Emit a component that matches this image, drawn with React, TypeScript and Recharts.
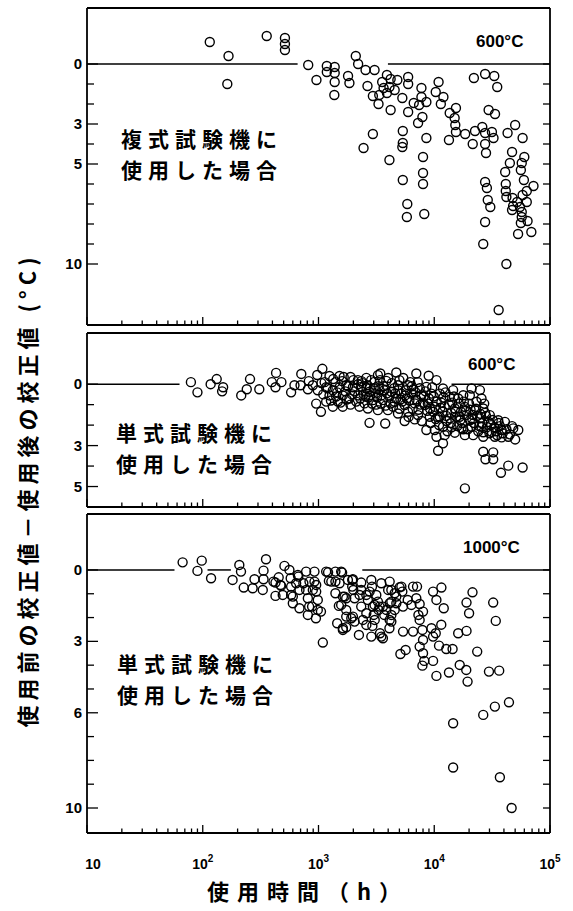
import React from 'react';
import { ScatterChart, Scatter, XAxis, YAxis, ReferenceLine } from 'recharts';

// hours of use vs (calibration before use - calibration after use), °C
const upperPoints: [number, number][] = [
  [115, -1.1], [167, -0.4], [163, 1.0], [357, -1.4], [513, -1.3], [513, -1.0], [513, -0.7], [815, 0.05],
  [960, 0.8], [1180, 0.1], [1180, 0.4], [1380, 0.15], [1380, 0.45], [1380, 0.9], [1370, 1.55], [1800, 0.6],
  [1850, 0.95], [2100, -0.4], [2200, 0.0], [2550, 0.3], [2650, 1.1], [2450, 4.2], [3050, 0.3], [2950, 1.6],
  [2950, 3.5], [3300, 2.0], [3350, 1.55], [3550, 0.9], [3650, 1.2], [3900, 0.55], [3900, 1.45], [4200, 0.75],
  [4100, 1.15], [4200, 2.3], [4100, 4.8], [4550, 1.3], [4800, 0.8], [5300, 1.7], [5350, 3.35], [5350, 3.95],
  [5300, 4.15], [5350, 5.8], [5850, 7.0], [5800, 7.65], [5950, 0.65], [5950, 1.0], [5950, 2.4], [6650, 1.95],
  [7250, 2.95], [7400, 2.05], [7750, 1.2], [7750, 1.65], [7900, 2.65], [8000, 4.65], [8000, 5.45], [8000, 6.0],
  [8200, 7.5], [8550, 1.9], [8550, 3.7], [10300, 1.4], [10900, 0.9], [11400, 2.0], [12000, 1.65], [13400, 3.8],
  [13600, 2.45], [15000, 2.7], [15400, 2.2], [15200, 3.05], [15400, 3.4], [18500, 3.5], [21500, 4.0], [22000, 0.7],
  [22500, 3.35], [26000, 3.15], [27500, 0.5], [27500, 3.45], [27500, 4.0], [28000, 4.45], [27500, 5.9], [28500, 6.2],
  [29000, 6.8], [30500, 7.15], [27500, 7.9], [26500, 9.0], [29500, 2.3], [31500, 3.4], [32500, 3.7], [33000, 0.6],
  [33500, 2.5], [35000, 1.15], [36000, 12.3], [41000, 5.4], [41500, 6.0], [41500, 6.35], [42000, 6.65], [42000, 10.0],
  [43000, 3.45], [45000, 4.95], [47000, 4.4], [47000, 7.3], [47500, 6.7], [48000, 7.1], [50000, 3.05], [52000, 6.9],
  [53000, 8.5], [55000, 7.15], [56000, 5.3], [57000, 4.95], [57000, 7.4], [57000, 7.65], [56000, 7.95], [58000, 3.7],
  [58000, 6.55], [59500, 5.8], [60000, 4.65], [63000, 6.35], [63000, 6.9], [64000, 7.85], [69000, 8.4], [72000, 6.1],
];

const middlePoints: [number, number][] = [
  [79, -0.1], [90, 0.4], [117, 0.0], [132, -0.25], [150, 0.15], [147, 0.35], [215, 0.55], [240, 0.25],
  [256, -0.25], [308, 0.25], [395, -0.1], [425, 0.15], [430, -0.55], [478, -0.1], [580, 0.4], [620, 0.05],
  [700, 0.05], [710, -0.5], [810, 0.25], [825, -0.15], [893, 0.05], [955, 0.95], [975, -0.45], [985, 0.3],
  [1050, 1.35], [1060, -0.05], [1080, -0.75], [1130, -0.1], [1165, 0.15], [1165, 0.85], [1245, -0.4], [1245, 0.55],
  [1330, 0.3], [1330, 1.1], [1340, -0.25], [1420, 0.6], [1470, 0.85], [1520, -0.4], [1520, 0.15], [1620, 0.55],
  [1620, 1.1], [1650, -0.35], [1736, 0.05], [1850, 0.7], [1890, -0.35], [1890, 1.0], [1983, 0.15], [2120, 0.85],
  [2200, 0.0], [2190, -0.2], [2260, 1.1], [2340, 0.13], [2500, 0.94], [2590, -0.31], [2670, 1.19], [2760, 0.37],
  [2760, 1.89], [2950, 0.78], [3050, -0.11], [3260, -0.44], [3260, 1.27], [3370, 0.29], [3420, -0.52], [3600, 0.78],
  [3770, 1.92], [3850, -0.16], [3980, 1.27], [4260, 0.37], [4550, 0.86], [4700, -0.57], [4860, 0.05], [4860, 1.43],
  [5200, 0.46], [5550, 1.02], [5550, 1.8], [5940, 0.05], [5940, 1.35], [6340, 0.46], [6780, 0.94], [6780, 1.72],
  [7000, -0.52], [7240, 1.51], [7740, 0.54], [8280, 1.02], [8550, 0.13], [8550, 2.24], [8950, -0.41], [9150, 1.59],
  [9450, 0.46], [10100, 1.11], [10100, 2.24], [10450, -0.2], [10450, 2.57], [10800, 3.25], [11150, 0.46], [11150, 1.59],
  [11900, 0.21], [11900, 2.08], [11900, 2.89], [12300, 1.11], [12300, 2.49], [13600, 0.62], [13600, 1.67], [14100, 2.11],
  [14550, 0.29], [15050, 1.19], [15050, 2.37], [16100, 0.7], [16600, 1.59], [17200, 2.16], [17800, 0.54], [18400, 1.11],
  [18400, 2.49], [18400, 5.09], [20300, 0.54], [20300, 1.76], [21000, 0.21], [21000, 2.08], [21700, 2.49], [22400, 1.27],
  [23200, 0.86], [24800, 0.29], [24800, 1.67], [25600, 0.7], [25600, 2.08], [26500, 1.19], [26500, 2.57], [26500, 3.3],
  [27700, 3.67], [30200, 1.51], [31300, 2.33], [32300, 3.33], [32300, 3.67], [33400, 2.57], [35700, 1.76], [37700, 4.33],
  [38200, 2.24], [38200, 2.6], [40800, 1.84], [43600, 2.57], [43600, 3.98], [48100, 2.16], [53200, 2.24], [58000, 4.07],
  [2050, 0.35], [2200, 0.55], [2400, -0.05], [2450, 0.5], [2600, 0.2], [2700, 0.65], [2850, -0.2], [2900, 0.95],
  [3100, 0.45], [3150, 1.0], [3300, 0.1], [3500, 0.55], [3700, 0.3], [3800, 1.05], [4000, -0.3], [4100, 0.6],
  [4400, 1.1], [4500, 0.2], [4700, 0.7], [5000, -0.2], [5000, 1.2], [5300, 0.85], [5700, 0.3], [5800, 0.7],
  [6000, 1.6], [6200, -0.1], [6500, 1.2], [6600, 0.25], [7000, 0.75], [7300, 1.25], [7500, 0.2], [7800, 1.8],
  [8000, 0.9], [8400, 0.35], [8700, 1.3], [9000, 0.7], [9300, 1.9], [9600, 0.15], [9800, 1.35], [10500, 0.85],
  [10700, 1.6], [11000, 2.0], [11500, 0.9], [11800, 1.35], [12500, 0.4], [12800, 1.8], [13000, 2.3], [13400, 1.0],
  [14000, 1.4], [14300, 0.9], [15500, 1.6], [15800, 2.05], [16300, 0.95], [17000, 1.35], [17500, 1.9], [18000, 0.85],
  [19000, 1.5], [19500, 2.2], [20000, 0.95], [21500, 1.5], [22000, 1.9], [23000, 1.2], [24000, 2.3], [25000, 1.45],
  [26000, 1.9], [27000, 0.95], [28000, 1.55], [28500, 2.1], [29500, 1.85], [31000, 2.0], [33000, 2.1], [35000, 2.5],
  [37000, 2.05], [42000, 2.2], [45000, 2.45], [47000, 2.05], [50000, 2.7],
  [1100, 0.5], [1200, 0.2], [1280, 0.8], [1400, -0.1], [1450, 0.4], [1550, 0.9], [1600, -0.15], [1700, 0.35],
  [1750, 0.75], [1800, 0.1], [1950, 0.5], [2000, -0.2], [2300, 0.7], [2350, -0.15], [2550, 0.6], [2650, 0.05],
  [2800, 0.55], [3000, 0.2], [3200, 0.65], [3400, -0.2], [3450, 0.95], [3650, 0.1], [3900, 0.45], [4200, 0.95],
  [4300, -0.05], [4600, 0.45], [4900, 0.3], [5100, 0.75], [5400, -0.3], [5600, 0.55], [6100, 0.8], [6400, 0.1],
  [6900, 0.4], [7200, -0.1], [7600, 1.0], [8100, 0.6], [8800, 0.95], [9200, 1.2], [9900, 0.6], [10300, 1.7],
  [11300, 1.15], [12000, 0.65], [12700, 1.55], [13900, 1.9], [14800, 0.6], [15300, 1.35], [16800, 1.75], [17800, 2.2],
  [18800, 1.3], [20600, 1.25], [21300, 1.7], [23500, 1.55], [24500, 2.05], [26500, 2.35], [27500, 1.4], [30000, 2.4],
  [32000, 1.75], [34000, 2.3], [36000, 1.9], [39000, 2.4],
];

const lowerPoints: [number, number][] = [
  [67, -0.32], [98, -0.39], [90, 0.04], [118, 0.35], [181, 0.42], [207, -0.21], [214, 0.07], [226, 0.74],
  [270, 0.77], [280, 0.39], [330, 0.84], [335, 0.03], [335, 0.39], [352, -0.45], [408, 0.49], [425, 0.53],
  [425, 1.09], [453, 0.31], [470, 0.63], [475, 0.67], [491, 1.05], [508, -0.17], [561, 0.0], [575, 0.35],
  [580, 0.7], [580, 1.05], [600, 1.12], [600, 1.4], [641, 0.56], [663, 0.21], [670, 0.28], [685, 0.84],
  [685, 1.61], [740, 0.56], [782, 0.07], [782, 0.84], [809, 1.19], [809, 1.89], [830, 1.54], [836, 0.49],
  [880, 1.54], [893, 0.84], [923, 0.07], [923, 0.49], [950, 2.03], [955, 0.63], [955, 0.91], [986, 1.26],
  [986, 1.68], [1050, 1.75], [1090, 3.05], [1165, 0.07], [1210, 0.1], [1230, 0.46], [1290, 0.49], [1400, 0.07],
  [1400, 0.49], [1400, 0.98], [1450, 2.24], [1500, 1.51], [1520, 0.56], [1570, 0.07], [1570, 1.47], [1600, 0.11],
  [1624, 2.52], [1625, 1.12], [1625, 2.45], [1680, 1.12], [1736, 1.19], [1736, 1.68], [1736, 1.96], [1736, 2.41],
  [1795, 0.42], [1920, 2.03], [1955, 0.42], [1955, 0.7], [1983, 0.39], [1983, 1.96], [2000, 0.84], [2050, 1.19],
  [2050, 2.17], [2235, 2.73], [2265, 1.05], [2340, 0.53], [2340, 0.84], [2340, 1.54], [2420, 2.1], [2590, 1.05],
  [2590, 1.82], [2590, 2.31], [2670, 1.26], [2765, 0.91], [2860, 0.42], [2860, 2.8], [2900, 0.7], [2920, 2.35],
  [2950, 1.54], [3000, 1.89], [3050, 1.47], [3060, 2.1], [3158, 1.05], [3260, 1.33], [3300, 1.68], [3375, 1.54],
  [3400, 2.66], [3490, 0.56], [3490, 2.8], [3600, 2.87], [3607, 1.54], [3700, 1.89], [3855, 1.68], [4000, 0.84],
  [4100, 2.45], [4120, 0.49], [4120, 1.4], [4120, 2.1], [4260, 0.84], [4260, 1.33], [4260, 1.89], [4260, 2.17],
  [4550, 0.98], [4550, 1.68], [4700, 1.12], [4706, 1.4], [5020, 0.73], [5100, 3.53], [5200, 0.7], [5300, 0.91],
  [5375, 1.54], [5375, 2.59], [5660, 3.36], [5900, 1.26], [6350, 1.47], [6560, 0.7], [6560, 2.59], [7000, 1.19],
  [7100, 0.7], [7300, 1.89], [7480, 1.43], [7480, 2.1], [7480, 3.22], [7900, 2.52], [7900, 4.02], [8000, 1.75],
  [8000, 2.94], [8000, 3.5], [8200, 3.82], [9460, 2.45], [9770, 0.91], [9770, 2.8], [9770, 3.82], [10300, 2.66],
  [10440, 1.26], [10440, 4.45], [11000, 3.18], [11500, 2.3], [11530, 0.74], [12080, 1.61], [12700, 3.32], [13400, 4.31],
  [14400, 3.32], [14560, 6.44], [14560, 8.3], [16100, 2.66], [16600, 3.99], [18900, 4.2], [19000, 1.37], [19000, 2.56],
  [19400, 4.69], [20000, 1.82], [21400, 0.94], [23500, 3.43], [26500, 6.09], [29700, 4.27], [32300, 1.37], [33400, 5.74],
  [34000, 2.14], [36400, 4.23], [36900, 8.71], [44200, 5.56], [46600, 10.0],
];

const hourDecades = [10, 100, 1000, 10000, 100000];
const minorSteps = [2, 3, 4, 5, 6, 7, 8, 9];
const hourTicks = hourDecades.flatMap((d) => (d === 100000 ? [d] : [d, ...minorSteps.map((m) => d * m)]));
const decadeText: Record<number, string> = { 10: '', 100: '2', 1000: '3', 10000: '4', 100000: '5' };

const upperTicks = [0, 1, 2, 3, 4, 5, 6, 7, 8, 9, 10];
const upperLabels = [0, 3, 5, 10];
const middleTicks = [0, 1, 2, 3, 4, 5];
const middleLabels = [0, 3, 5];
const lowerTicks = [0, 1, 2, 3, 4, 5, 6, 7, 8, 9, 10];
const lowerLabels = [0, 3, 6, 10];

// pieces of the zero line (the drawn line is broken where the points are)
const upperZero: [number, number][] = [[10, 660], [3980, 100000]];
const middleZero: [number, number][] = [[10, 63], [14100, 100000]];
const lowerZero: [number, number][] = [[10, 57], [110, 175], [2390, 100000]];

const numFont = "'Liberation Sans', Arial, sans-serif";
const jpFont = "'Noto Sans CJK JP', 'Noto Sans CJK SC', sans-serif";

const Ring = (props: any) => {
  if (props.cx == null || props.cy == null) return null;
  return <circle cx={props.cx} cy={props.cy} r={4.5} fill="none" stroke="#000" strokeWidth={1.4} />;
};

const XTick = (props: any) => {
  const { x, y, payload, dir, labels } = props;
  const v = payload.value;
  const major = hourDecades.includes(v);
  const len = major ? 8 : 4.5;
  return (
    <g>
      <line x1={x} x2={x} y1={y} y2={y + dir * len} stroke="#000" strokeWidth={1.3} />
      {labels && major && (
        <text x={v === 10 ? x + 6 : x} y={y + 36} textAnchor="middle" fontFamily={numFont} fontWeight={700} fontSize={14} fill="#000">
          10
          {decadeText[v] && (
            <tspan dy={-7} fontSize={10}>
              {decadeText[v]}
            </tspan>
          )}
        </text>
      )}
    </g>
  );
};

const YTick = (props: any) => {
  const { x, y, payload, dir, labels } = props;
  const shown = labels && labels.includes(payload.value);
  const len = shown ? 11 : 7;
  return (
    <g>
      <line x1={x} x2={x + dir * len} y1={y} y2={y} stroke="#000" strokeWidth={1.3} />
      {shown && (
        <text x={x - 5} y={y + 5} textAnchor="end" fontFamily={numFont} fontWeight={700} fontSize={15} fill="#000">
          {payload.value}
        </text>
      )}
    </g>
  );
};

type PanelProps = {
  top: number;
  height: number;
  margin: { top: number; bottom: number };
  points: [number, number][];
  domain: [number, number];
  ticks: number[];
  labels: number[];
  zero: [number, number][];
  xLabels?: boolean;
};

const Panel = ({ top, height, margin, points, domain, ticks, labels, zero, xLabels }: PanelProps) => {
  const data = points.map(([h, v]) => ({ hours: h, diff: v }));
  const axisLine = { stroke: '#000', strokeWidth: 1.8 };
  return (
    <div style={{ position: 'absolute', left: 0, top }}>
      <ScatterChart width={573} height={height} margin={{ top: margin.top, bottom: margin.bottom, left: 47, right: 22 }}>
        <XAxis xAxisId="b" dataKey="hours" type="number" scale="log" domain={[10, 100000]} allowDataOverflow
          ticks={hourTicks} interval={0} orientation="bottom" height={1} tickSize={0} tickMargin={0}
          tickLine={false} axisLine={axisLine} tick={(p: any) => <XTick {...p} dir={-1} labels={xLabels} />} />
        <XAxis xAxisId="t" type="number" scale="log" domain={[10, 100000]} allowDataOverflow
          ticks={hourTicks} interval={0} orientation="top" height={1} tickSize={0} tickMargin={0}
          tickLine={false} axisLine={axisLine} tick={(p: any) => <XTick {...p} dir={1} />} />
        <YAxis yAxisId="l" dataKey="diff" type="number" domain={domain} reversed allowDataOverflow
          ticks={ticks} interval={0} width={40} tickSize={0} tickMargin={0}
          tickLine={false} axisLine={axisLine} tick={(p: any) => <YTick {...p} dir={1} labels={labels} />} />
        <YAxis yAxisId="r" orientation="right" type="number" domain={domain} reversed allowDataOverflow
          ticks={ticks} interval={0} width={1} tickSize={0} tickMargin={0}
          tickLine={false} axisLine={axisLine} tick={(p: any) => <YTick {...p} dir={-1} />} />
        {zero.map(([a, b], i) => (
          <ReferenceLine key={i} xAxisId="b" yAxisId="l" segment={[{ x: a, y: 0 }, { x: b, y: 0 }]} stroke="#000" strokeWidth={1.5} />
        ))}
        <Scatter xAxisId="b" yAxisId="l" data={data} shape={Ring} isAnimationActive={false} />
      </ScatterChart>
    </div>
  );
};

const tempStyle = { fontFamily: numFont, fontWeight: 700, fontSize: 17 } as const;

// two-line handwritten note inside a panel
const Note = ({ left, top, lines }: { left: number; top: number; lines: string[] }) => (
  <div style={{
    position: 'absolute', left, top, fontFamily: jpFont, fontWeight: 700, fontSize: 21,
    lineHeight: '31px', letterSpacing: 6, whiteSpace: 'nowrap', color: '#000',
  }}>
    {lines[0]}
    <br />
    {lines[1]}
  </div>
);

export default function App() {
  return (
    <div style={{ position: 'absolute', left: 0, top: 0, width: 573, height: 911, background: '#fff' }}>
      <Panel top={0} height={330} margin={{ top: 7, bottom: 4 }} points={upperPoints} domain={[-2.8, 13.05]}
        ticks={upperTicks} labels={upperLabels} zero={upperZero} />
      <Panel top={328} height={184} margin={{ top: 4, bottom: 4 }} points={middlePoints} domain={[-2.5, 6.0]}
        ticks={middleTicks} labels={middleLabels} zero={middleZero} />
      <Panel top={509} height={370} margin={{ top: 4, bottom: 45 }} points={lowerPoints} domain={[-2.35, 11.05]}
        ticks={lowerTicks} labels={lowerLabels} zero={lowerZero} xLabels />
      <Note left={121} top={123} lines={['複式試験機に', '使用した場合']} />
      <Note left={116} top={417} lines={['単式試験機に', '使用した場合']} />
      <Note left={117} top={648} lines={['単式試験機に', '使用した場合']} />
      <svg width={573} height={911} style={{ position: 'absolute', left: 0, top: 0, pointerEvents: 'none' }}>
        <text x={476} y={47} {...tempStyle}>600°C</text>
        <text x={468} y={370} {...tempStyle}>600°C</text>
        <text x={463} y={553} {...tempStyle}>1000°C</text>
        <text transform="translate(26,490) rotate(-90)" textAnchor="middle" dominantBaseline="central"
          fontFamily={jpFont} fontWeight={700} fontSize={22} letterSpacing={5}>
          使用前の校正値－使用後の校正値 (°C)
        </text>
        <text x={308} y={900} textAnchor="middle" fontFamily={jpFont} fontWeight={700} fontSize={22} letterSpacing={8}>
          使用時間（h）
        </text>
      </svg>
    </div>
  );
}
